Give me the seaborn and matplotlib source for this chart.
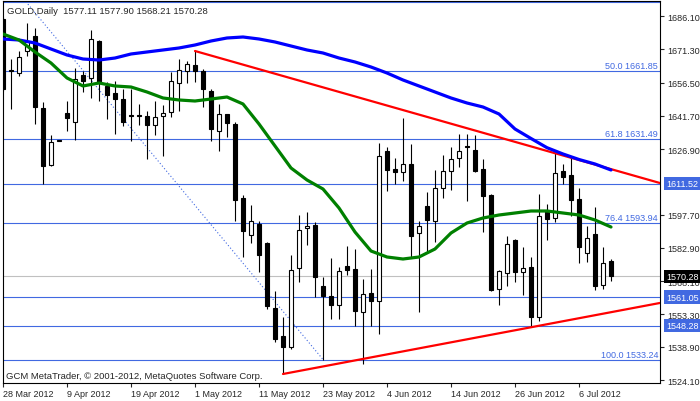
import numpy as np
import pandas as pd
import matplotlib
matplotlib.use("Agg")
import matplotlib.pyplot as plt
import matplotlib.transforms as mtransforms
import seaborn as sns

# ── Daily GOLD bars, 28 Mar – 12 Jul 2012 ─────────────────────────────────────
OPEN = [1684.77, 1662.08, 1660.74, 1670.53, 1677.21, 1645.17, 1619.80, 1631.00, 1642.94, 1638.94,
        1659.85, 1658.45, 1674.98, 1654.96, 1651.84, 1649.17, 1642.05, 1642.05, 1641.61, 1637.60,
        1641.61, 1643.39, 1656.29, 1661.63, 1664.30, 1661.63, 1652.73, 1634.93, 1642.50, 1638.05,
        1605.12, 1588.65, 1593.55, 1585.09, 1556.17, 1543.71, 1538.81, 1573.97, 1591.76, 1593.10,
        1565.96, 1561.51, 1557.50, 1574.86, 1573.52, 1554.39, 1562.84, 1559.28, 1626.03, 1618.02,
        1616.69, 1620.25, 1589.54, 1601.56, 1594.88, 1609.57, 1617.13, 1622.92, 1628.26, 1626.48,
        1618.02, 1606.45, 1564.62, 1571.74, 1586.42, 1572.19, 1574.41, 1552.16, 1599.33, 1596.22,
        1617.13, 1615.35, 1604.67, 1580.64, 1589.09, 1566.40, 1577.11]
HIGH = [1685.66, 1666.97, 1670.53, 1682.99, 1680.77, 1647.84, 1633.15, 1631.00, 1648.28, 1662.97,
        1661.63, 1679.88, 1675.43, 1656.74, 1657.18, 1653.62, 1653.62, 1646.95, 1643.83, 1648.28,
        1646.50, 1661.19, 1666.97, 1666.08, 1670.53, 1662.52, 1653.62, 1646.95, 1642.50, 1638.94,
        1606.45, 1602.00, 1594.88, 1585.54, 1563.73, 1552.16, 1579.75, 1597.55, 1598.89, 1594.44,
        1569.96, 1578.42, 1574.41, 1583.76, 1582.42, 1569.07, 1573.52, 1629.59, 1627.81, 1622.92,
        1640.72, 1629.14, 1594.88, 1607.79, 1617.58, 1624.25, 1627.81, 1633.60, 1633.60, 1633.15,
        1622.47, 1606.90, 1573.08, 1588.20, 1586.87, 1583.31, 1578.86, 1606.90, 1602.45, 1625.59,
        1620.25, 1622.92, 1609.57, 1592.66, 1601.11, 1583.31, 1577.90]
LOW = [1652.73, 1644.72, 1659.41, 1668.30, 1638.05, 1611.35, 1619.36, 1630.48, 1634.93, 1630.93,
       1652.29, 1649.62, 1648.28, 1640.27, 1633.60, 1637.16, 1630.48, 1637.60, 1622.47, 1633.15,
       1623.81, 1641.16, 1643.83, 1656.29, 1656.74, 1645.61, 1630.48, 1626.03, 1632.26, 1594.88,
       1578.86, 1585.09, 1572.19, 1555.72, 1541.04, 1526.80, 1537.92, 1567.74, 1584.20, 1561.06,
       1533.24, 1551.27, 1551.27, 1570.85, 1548.16, 1531.25, 1548.16, 1544.59, 1608.23, 1611.35,
       1612.68, 1578.86, 1554.39, 1581.09, 1585.54, 1605.12, 1608.68, 1618.91, 1603.78, 1616.69,
       1589.98, 1563.73, 1557.50, 1565.96, 1567.74, 1561.95, 1548.16, 1550.38, 1586.42, 1594.44,
       1611.35, 1597.11, 1576.19, 1576.64, 1564.18, 1564.62, 1568.21]
CLOSE = [1653.62, 1661.63, 1667.86, 1674.98, 1645.61, 1619.36, 1630.04, 1630.50, 1640.72, 1658.07,
         1657.18, 1675.87, 1656.74, 1650.95, 1649.17, 1638.94, 1641.61, 1641.61, 1637.60, 1641.16,
         1642.94, 1657.18, 1662.08, 1664.72, 1661.63, 1653.62, 1635.82, 1642.50, 1638.49, 1604.23,
         1590.43, 1594.88, 1579.75, 1557.06, 1542.37, 1538.81, 1573.08, 1590.87, 1592.66, 1569.96,
         1561.51, 1557.50, 1572.63, 1573.08, 1554.83, 1562.40, 1559.28, 1623.81, 1617.58, 1616.69,
         1620.25, 1588.20, 1592.66, 1595.33, 1609.57, 1617.13, 1622.47, 1626.03, 1628.00, 1617.13,
         1606.01, 1564.18, 1572.63, 1584.65, 1572.19, 1573.97, 1552.16, 1597.11, 1595.77, 1616.24,
         1614.46, 1604.23, 1583.31, 1587.31, 1565.96, 1576.19, 1570.28]

DATES = pd.bdate_range("2012-03-28", "2012-07-12")
DATE_LABELS = ["28 Mar 2012", "9 Apr 2012", "19 Apr 2012", "1 May 2012", "11 May 2012",
               "23 May 2012", "4 Jun 2012", "14 Jun 2012", "26 Jun 2012", "6 Jul 2012"]

# ── Moving averages, sampled every second bar ─────────────────────────────────
MA_BARS = list(range(0, 77, 2))
MA_SLOW = [1675.87, 1675.43, 1674.09, 1671.42, 1668.75, 1666.97, 1666.52, 1667.41, 1669.20, 1670.09,
           1670.98, 1671.87, 1673.20, 1674.98, 1676.32, 1676.76, 1675.87, 1674.54, 1672.76, 1670.98,
           1669.64, 1667.41, 1665.64, 1663.41, 1660.74, 1657.63, 1654.96, 1652.29, 1649.62, 1647.39,
           1645.61, 1642.50, 1635.82, 1631.60, 1627.50, 1624.70, 1622.25, 1620.25, 1617.58]
MA_FAST = [1678.10, 1675.43, 1670.09, 1665.19, 1658.52, 1654.96, 1656.29, 1654.96, 1654.51, 1652.29,
           1649.62, 1648.73, 1648.28, 1649.17, 1650.06, 1646.95, 1638.05, 1628.26, 1618.47, 1613.13,
           1609.12, 1600.67, 1589.98, 1581.53, 1578.86, 1577.97, 1578.86, 1582.42, 1589.54, 1593.99,
           1596.22, 1597.55, 1598.44, 1599.33, 1599.33, 1598.44, 1597.55, 1595.33, 1592.21]

# ── Drawn objects ─────────────────────────────────────────────────────────────
TREND_UPPER_BARS = [24, 82.1]
TREND_UPPER_PRICE = [1670.53, 1611.80]
TREND_LOWER_BARS = [35, 82.1]
TREND_LOWER_PRICE = [1526.80, 1558.39]
FIB_BARS = [-20, 40]
FIB_PRICE = [1790.46, 1533.24]
FIB_PCT = [38.2, 50.0, 61.8, 76.4, 100.0]
FIB_LEVELS = [1692.20, 1661.85, 1631.49, 1593.94, 1533.24]
HLINES = [1611.52, 1561.05, 1548.28]
BID = 1570.28
Y_TICKS = [1686.10, 1671.30, 1656.50, 1641.70, 1626.90, 1597.70, 1582.90,
           1568.10, 1553.30, 1538.90, 1524.10]
HEADER = "GOLD,Daily  1577.11 1577.90 1568.21 1570.28"
FOOTER = "GCM MetaTrader, \u00a9 2001-2012, MetaQuotes Software Corp."

LEVEL_BLUE = "#4169E1"
FS = 6.5

sns.set_style("white")
plt.rcParams["font.family"] = ["Liberation Sans", "DejaVu Sans"]

fig = plt.figure(figsize=(7.0, 4.02), dpi=100)
ax = fig.add_axes([3 / 700, 18 / 402, 657 / 700, 382 / 402])

# horizontal levels
for lvl in FIB_LEVELS + HLINES:
    ax.axhline(lvl, color=LEVEL_BLUE, lw=0.8, zorder=1)
ax.axhline(BID, color="#C0C0C0", lw=0.8, zorder=1)
ax.plot(FIB_BARS, FIB_PRICE, color=LEVEL_BLUE, lw=0.8, ls=(0, (1, 2)), zorder=1)

trans = mtransforms.blended_transform_factory(ax.transAxes, ax.transData)
ylim_top = 1692.78
for pct, lvl in zip(FIB_PCT, FIB_LEVELS):
    if lvl + 5 > ylim_top:
        continue  # label of the top level sits above the visible area
    ax.text(0.997, lvl + 0.4, f"{pct:.1f} {lvl:.2f}", transform=trans, ha="right",
            va="bottom", color=LEVEL_BLUE, fontsize=FS, zorder=2)

# candles
bars = np.arange(len(OPEN))
o, h, l, c = (np.asarray(a) for a in (OPEN, HIGH, LOW, CLOSE))
bull = c >= o
ax.vlines(bars, l, h, color="black", lw=0.8, zorder=3)
ax.bar(bars[bull], (c - o)[bull], bottom=o[bull], width=0.55,
       facecolor="white", edgecolor="black", lw=0.8, zorder=4)
ax.bar(bars[~bull], (c - o)[~bull], bottom=o[~bull], width=0.55,
       facecolor="black", edgecolor="black", lw=0.8, zorder=4)

# trend lines
ax.plot(TREND_UPPER_BARS, TREND_UPPER_PRICE, color="red", lw=1.6, zorder=5)
ax.plot(TREND_LOWER_BARS, TREND_LOWER_PRICE, color="red", lw=1.6, zorder=5)

# moving averages
ma = pd.DataFrame({
    "bar": MA_BARS * 2,
    "price": MA_SLOW + MA_FAST,
    "line": ["slow"] * len(MA_BARS) + ["fast"] * len(MA_BARS),
})
sns.lineplot(data=ma, x="bar", y="price", hue="line",
             palette={"slow": "#0000FF", "fast": "#008000"},
             linewidth=2.3, legend=False, ax=ax, zorder=6)

# axes
ax.set_xlim(0, 82.125)
ax.set_ylim(1522.79, ylim_top)
ax.set_xlabel("")
ax.set_ylabel("")

tick_pos = [DATES.get_loc(pd.Timestamp(d)) for d in DATE_LABELS]
ax.set_xticks(tick_pos)
ax.set_xticklabels(DATE_LABELS, fontsize=FS, ha="left")
ax.tick_params(axis="x", direction="out", length=3, width=0.8, pad=1.5, bottom=True)

ax.yaxis.tick_right()
ax.set_yticks(Y_TICKS)
ax.set_yticklabels([f"{v:.2f}" for v in Y_TICKS], fontsize=FS)
ax.tick_params(axis="y", direction="out", length=3, width=0.8, pad=2, right=True)

for side in ["top", "bottom", "left", "right"]:
    ax.spines[side].set_visible(True)
    ax.spines[side].set_color("black")
    ax.spines[side].set_linewidth(0.8)

# price boxes on the axis
for lvl in HLINES:
    ax.text(1.009, lvl, f"{lvl:.2f}", transform=trans, ha="left", va="center",
            color="white", fontsize=FS, clip_on=False, zorder=10,
            bbox=dict(boxstyle="square,pad=0.25", fc=LEVEL_BLUE, ec="none"))
ax.text(1.009, BID, f"{BID:.2f}", transform=trans, ha="left", va="center",
        color="white", fontsize=FS, clip_on=False, zorder=10,
        bbox=dict(boxstyle="square,pad=0.25", fc="black", ec="none"))

fig.text(7 / 700, 1 - 11 / 402, HEADER, fontsize=6.8, va="center", ha="left")
fig.text(6 / 700, 1 - 377 / 402, FOOTER, fontsize=6.8, va="center", ha="left")

fig.savefig("out.png", dpi=100)
